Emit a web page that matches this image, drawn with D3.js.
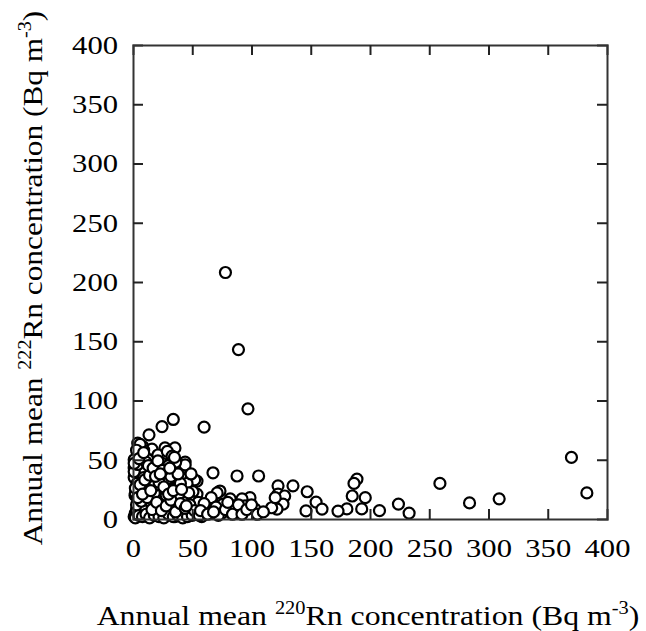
<!DOCTYPE html>
<html>
<head>
<meta charset="utf-8">
<script src="https://cdn.jsdelivr.net/npm/d3@7"></script>
<style>
  body { margin: 0; background: #fff; }
  svg text { font-family: "Liberation Serif", "Times New Roman", serif; fill: #000; }
</style>
</head>
<body>
<svg id="chart" width="646" height="631"></svg>
<script>
// annual mean 220Rn (x) vs 222Rn (y), Bq m-3
var rn220 = [78, 89, 97, 60, 34, 24.5, 13.5, 370, 383, 259, 309, 284, 233, 224, 208,
  189, 186.5, 185, 196, 193, 180.5, 173, 147, 154.5, 159.5, 146, 122.4, 135, 122.4, 128, 126.6, 120, 121.5,
  67.5, 87.8, 106, 54, 54, 73.4, 82, 98.7, 92, 103, 94.5, 87.8, 75, 65, 59, 54, 67.5, 76, 84, 117, 120,
  4, 8.4, 16, 27, 35.4, 4, 21, 29.5, 12.7, 1, 44, 24.5, 1, 10, 17, 33, 39.7, 52, 1, 3.4, 12.7, 21, 28.7, 37, 45.6,
  6, 17, 27, 42, 50.6, 1.7, 11.8, 21, 33, 48, 4, 14, 24.5, 38, 52, 2, 10, 21, 29.5, 35.4, 46, 44, 71,
  1, 3, 5, 2, 7, 1, 4, 6, 9, 8, 12, 15, 18, 19, 23, 26, 30, 31, 34, 40, 42, 44, 47, 49, 38, 26, 16, 9, 6, 3, 11,
  13, 17, 20, 25, 28, 32, 36, 40, 43, 50, 55, 58, 62, 66, 70, 72, 78, 80, 84, 89, 92, 96, 100, 105, 110,
  2, 5, 8, 11, 14, 18, 22, 26, 30, 34, 38, 42, 46, 50, 3, 7, 12, 16, 20, 24, 28, 32, 36, 40, 44, 48, 52, 56, 60,
  2, 6, 10, 14, 18, 22, 26, 30, 34, 38, 1, 5, 9, 13, 17, 21, 25, 29, 33, 4, 8, 15, 19, 23, 31, 35, 41, 45, 57, 63, 68];
var rn222 = [208, 143, 93, 77.6, 84, 78, 71, 52, 22, 30, 17, 13.6, 5, 12.6, 7,
  33.7, 30, 19.4, 18, 8.5, 8.5, 6.7, 23, 14.3, 8.4, 6.8, 28, 28, 21, 19.4, 12.6, 9.5, 8.4,
  39, 36.3, 36.3, 32, 21, 23.6, 17, 18, 17, 8.4, 11, 7.6, 5, 5, 11, 7.6, 13.5, 12.6, 11, 9.5, 18,
  64, 61, 59, 60, 60, 55.7, 54, 52.3, 50, 50, 48, 47, 43, 41, 40, 40, 41, 33, 35, 30, 31, 34.6, 33, 33, 30,
  24.5, 25, 26, 23, 23, 20, 17.7, 18.6, 17.7, 16, 11.8, 10, 10, 10, 10, 5, 6, 5, 5, 2, 5, 45.6, 22,
  2, 8, 15, 22, 28, 40, 46, 52, 35, 8, 3, 14, 22, 30, 40, 44, 45, 25, 12, 18, 8, 14, 22, 38, 28, 14, 45, 58, 63, 58, 48,
  27, 6, 12, 3, 20, 36, 48, 30, 2, 5, 14, 2, 8, 18, 10, 3, 8, 14, 4, 12, 4, 8, 12, 4, 6,
  1, 3, 2, 4, 1, 3, 2, 1, 4, 2, 3, 1, 2, 3, 12, 15, 18, 8, 14, 7, 11, 16, 6, 13, 9, 12, 7, 3, 13,
  26, 29, 33, 37, 28, 31, 27, 21, 24, 38, 47, 51, 56, 45, 43, 49, 41, 57, 53, 18, 21, 24, 36, 38, 43, 52, 25, 11, 7, 4, 6];
var xTicks = [0, 50, 100, 150, 200, 250, 300, 350, 400];
var yTicks = [0, 50, 100, 150, 200, 250, 300, 350, 400];

var svg = d3.select("#chart");
var m = { left: 133, right: 607, top: 45, bottom: 519 };
var tickLen = 10;

var x = d3.scaleLinear().domain([0, 400]).range([m.left, m.right]);
var y = d3.scaleLinear().domain([0, 400]).range([m.bottom, m.top]);

var points = rn220.map(function (v, i) { return { x: v, y: rn222[i] }; });

// markers first, frame on top
svg.append("g").selectAll("circle")
  .data(points)
  .enter()
  .append("circle")
  .attr("cx", function (d) { return x(d.x); })
  .attr("cy", function (d) { return y(d.y); })
  .attr("r", 5.5)
  .attr("fill", "#fff")
  .attr("stroke", "#000")
  .attr("stroke-width", 2.2);

// axes with inner ticks, labels drawn only on bottom and left
var axB = d3.axisBottom(x).tickValues(xTicks).tickSize(-tickLen).tickPadding(20);
var axT = d3.axisTop(x).tickValues(xTicks).tickSize(-tickLen).tickFormat("");
var axL = d3.axisLeft(y).tickValues(yTicks).tickSize(-tickLen).tickPadding(15);
var axR = d3.axisRight(y).tickValues(yTicks).tickSize(-tickLen).tickFormat("");

function styleAxis(g) {
  g.select(".domain").attr("stroke", "#333").attr("stroke-width", 2);
  g.selectAll(".tick line").attr("stroke", "#222").attr("stroke-width", 2);
  // the source font is wider than Times, so stretch the digits a little
  g.selectAll(".tick text").attr("font-size", 26).attr("fill", "#000")
    .style("font-family", "'Liberation Serif', serif")
    .attr("textLength", function (d) { return String(d).length * 15.3; })
    .attr("lengthAdjust", "spacingAndGlyphs");
}

svg.append("g").attr("transform", "translate(0," + m.bottom + ")").call(axB).call(styleAxis);
svg.append("g").attr("transform", "translate(0," + m.top + ")").call(axT).call(styleAxis);
svg.append("g").attr("transform", "translate(" + m.left + ",0)").call(axL).call(styleAxis);
svg.append("g").attr("transform", "translate(" + m.right + ",0)").call(axR).call(styleAxis);

// hide the end ticks that sit on the frame corners
svg.selectAll(".tick").filter(function (d) { return d === 0 || d === 400; }).select("line").attr("stroke", "none");

// axis titles with superscripts, stretched to the reference width
function title(g, iso, width) {
  var inner = g.append("g");
  var t = inner.append("text").attr("font-size", 28).attr("text-anchor", "middle");
  t.append("tspan").text("Annual mean ");
  t.append("tspan").attr("font-size", 18).attr("dy", -11).text(iso);
  t.append("tspan").attr("dy", 11).text("Rn concentration (Bq m");
  t.append("tspan").attr("font-size", 18).attr("dy", -11).text("-3");
  t.append("tspan").attr("dy", 11).text(")");
  var w = t.node().getBBox().width;
  inner.attr("transform", "scale(" + (width / w) + ",1)");
  return t;
}

title(svg.append("g").attr("transform", "translate(368,625)"), "220", 543);
title(svg.append("g").attr("transform", "translate(42,278) rotate(-90)"), "222", 535);
</script>
</body>
</html>
